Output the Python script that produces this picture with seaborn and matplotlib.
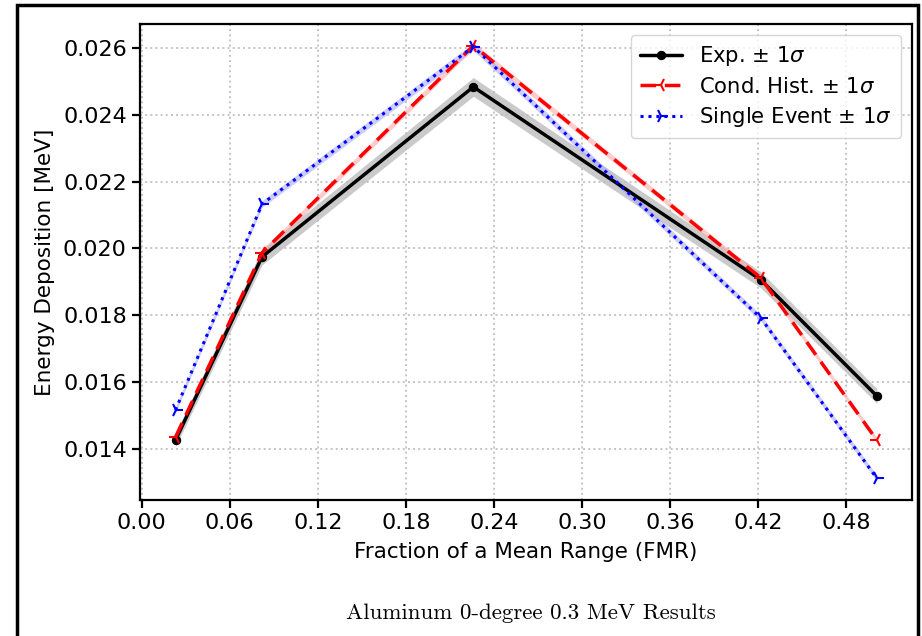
import numpy as np
import pandas as pd
import matplotlib.pyplot as plt
import seaborn as sns
from matplotlib.patches import Rectangle

# Values
fmr = [0.023, 0.082, 0.226, 0.422, 0.501]
exp_vals = [0.01427, 0.01975, 0.02483, 0.01906, 0.01559]
exp_err = [0.00020, 0.00024, 0.00028, 0.00024, 0.00022]
cond_vals = [0.01436, 0.01987, 0.02606, 0.01912, 0.01427]
cond_err = [0.00008, 0.00009, 0.00010, 0.00009, 0.00008]
single_vals = [0.01517, 0.02133, 0.02603, 0.01792, 0.01313]
single_err = [0.00009, 0.00010, 0.00011, 0.00010, 0.00009]

sns.set_style("ticks")
plt.rcParams['font.family'] = ['DejaVu Sans']
plt.rcParams['mathtext.fontset'] = 'dejavusans'
plt.rcParams['text.color'] = 'black'
plt.rcParams['axes.labelcolor'] = 'black'
plt.rcParams['xtick.color'] = 'black'
plt.rcParams['ytick.color'] = 'black'

fig = plt.figure(figsize=(9.22, 6.36), dpi=100)
ax = fig.add_axes([140 / 922, 1 - 500 / 636, (912 - 140) / 922, (500 - 24) / 636])

# shaded +-1 sigma bands
ax.fill_between(fmr, np.array(exp_vals) - exp_err, np.array(exp_vals) + exp_err,
                color='#bdbdbd', alpha=0.8, lw=0, zorder=1)
ax.fill_between(fmr, np.array(cond_vals) - cond_err, np.array(cond_vals) + cond_err,
                color='#ffaaaa', alpha=0.6, lw=0, zorder=1)
ax.fill_between(fmr, np.array(single_vals) - single_err, np.array(single_vals) + single_err,
                color='#aaaaff', alpha=0.6, lw=0, zorder=1)

sns.lineplot(x=fmr, y=exp_vals, ax=ax, color='black', lw=2.5, marker='o', markersize=6,
             markeredgecolor='black', label=r'Exp. $\pm$ 1$\sigma$', zorder=3)
sns.lineplot(x=fmr, y=cond_vals, ax=ax, color='red', lw=2.5, linestyle=(0, (4.5, 2.5)),
             marker='3', markersize=10, markeredgewidth=1.5, markeredgecolor='red',
             label=r'Cond. Hist. $\pm$ 1$\sigma$', zorder=4)
sns.lineplot(x=fmr, y=single_vals, ax=ax, color='blue', lw=2.2, linestyle=(0, (1, 1.6)),
             marker='4', markersize=10, markeredgewidth=1.5, markeredgecolor='blue',
             label=r'Single Event $\pm$ 1$\sigma$', zorder=5)

xt = np.arange(0, 0.49, 0.06)
yt = np.arange(0.014, 0.0261, 0.002)
ax.set_xticks(xt)
ax.set_xticklabels([f'{t:.2f}' for t in xt])
ax.set_yticks(yt)
ax.set_yticklabels([f'{t:.3f}' for t in yt])
ax.set_xlim(-0.0012, 0.525)
ax.set_ylim(0.01248, 0.02671)
ax.grid(True, linestyle=':', color='#c4c4c4', lw=1.4)
for s in ax.spines.values():
    s.set_color('black')
    s.set_linewidth(1.6)
ax.tick_params(labelsize=16, width=1.6, length=6, color='black')
ax.set_xlabel('Fraction of a Mean Range (FMR)', fontsize=15.5, labelpad=6)
ax.set_ylabel('Energy Deposition [MeV]', fontsize=15.5, labelpad=6)

leg = ax.legend(loc='upper right', fontsize=15.2, frameon=True, handlelength=2.0,
                borderpad=0.45, labelspacing=0.4, handletextpad=0.8)
leg.get_frame().set_edgecolor('#cccccc')

fig.text(531 / 922, 1 - 613 / 636, 'Aluminum 0-degree 0.3 MeV Results',
         ha='center', va='center', fontsize=16.5, family='cmr10')

# outer frame of the page figure
fig.patches.append(Rectangle((17 / 922, -0.1), (918 - 17) / 922, (1 - 5 / 636) + 0.1,
                             transform=fig.transFigure, fill=False, edgecolor='black',
                             lw=2.5, zorder=10))

fig.savefig('out.png', dpi=100)
